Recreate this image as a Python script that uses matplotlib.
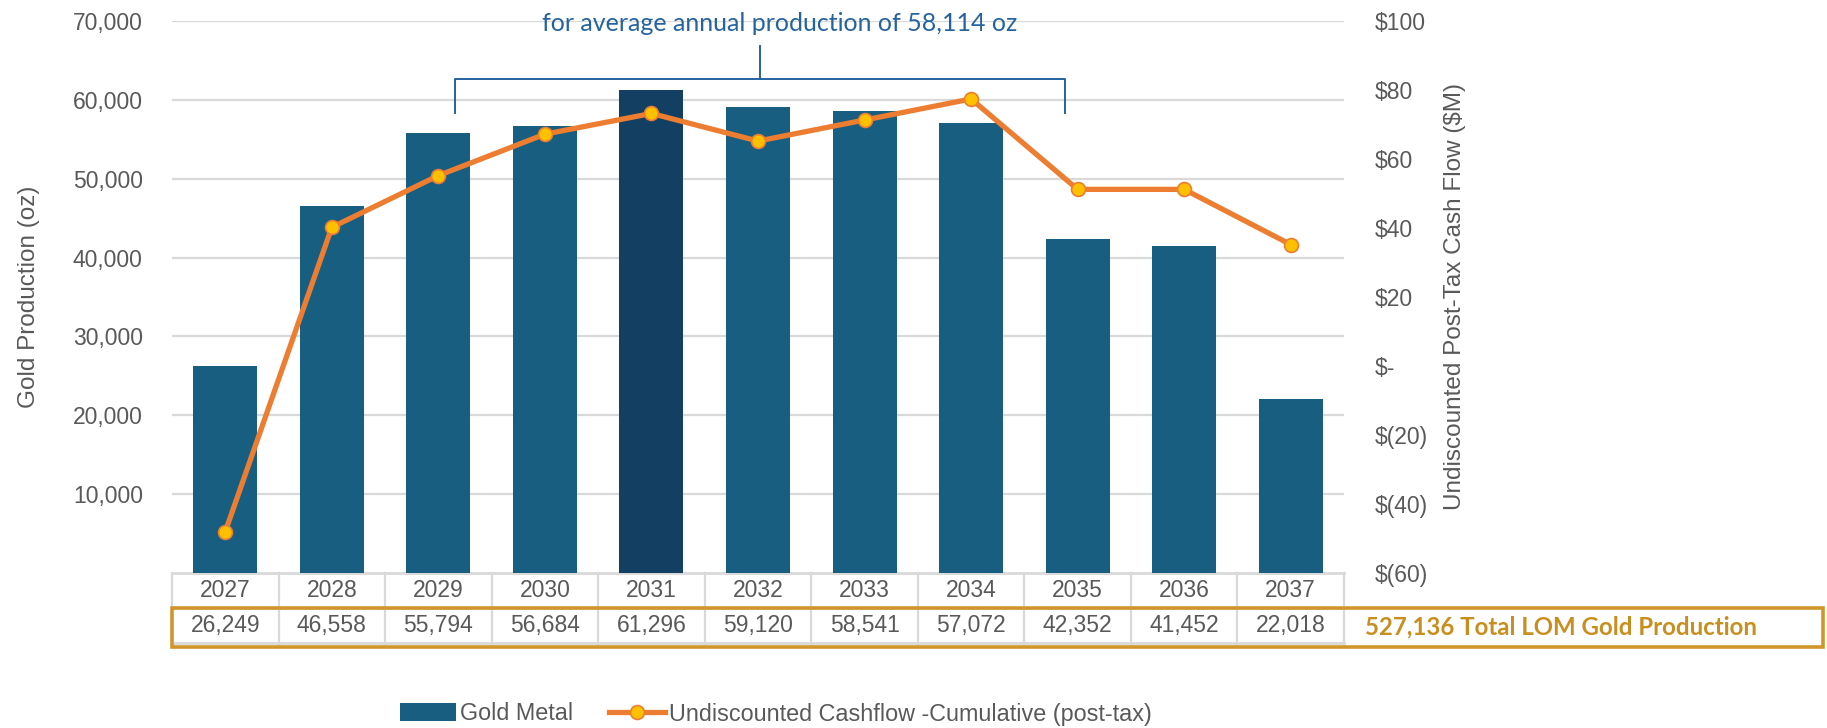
import matplotlib
matplotlib.use("Agg")
import matplotlib.pyplot as plt
from matplotlib.patches import Rectangle, Patch
from matplotlib.lines import Line2D

years = ["2027", "2028", "2029", "2030", "2031", "2032", "2033", "2034", "2035", "2036", "2037"]
gold_oz = [26249, 46558, 55794, 56684, 61296, 59120, 58541, 57072, 42352, 41452, 22018]
cashflow_cum = [-48.0, 40.2, 55.2, 67.2, 73.2, 65.2, 71.3, 77.4, 51.2, 51.2, 35.2]
highlight_year = "2031"

gold_ticks = [10000, 20000, 30000, 40000, 50000, 60000, 70000]
cf_ticks = [-60, -40, -20, 0, 20, 40, 60, 80, 100]
cf_labels = ["$(60)", "$(40)", "$(20)", "$-", "$20", "$40", "$60", "$80", "$100"]

note_text = "for average annual production of 58,114 oz"
bracket_span = [2.16, 7.88]

BAR = "#175E81"
BAR_DARK = "#133F63"
ORANGE = "#ED7D31"
YELLOW = "#FFC000"
GRAY_TXT = "#595959"
GRID = "#D9D9D9"
NOTE_BLUE = "#2563A0"
GOLD_TXT = "#C98F1E"
BOX = "#D0962A"

plt.rcParams["font.family"] = ["Liberation Sans", "DejaVu Sans"]

W, H = 1827, 728
fig = plt.figure(figsize=(W / 100, H / 100), dpi=100)
ax = fig.add_axes([172 / W, (H - 573) / H, 1172 / W, 552 / H])

x = list(range(len(years)))
colors = [BAR_DARK if y == highlight_year else BAR for y in years]
ax.bar(x, gold_oz, width=0.6, color=colors, zorder=2)

ax.set_xlim(-0.5, len(years) - 0.5)
ax.set_ylim(0, 70000)
ax.set_yticks(gold_ticks)
ax.set_yticklabels([f"{v:,}" for v in gold_ticks])
ax.set_xticks([])
ax.grid(axis="y", color=GRID, lw=1.6, zorder=0)
ax.set_axisbelow(True)
ax.tick_params(axis="y", length=0, pad=21, labelsize=16.5, labelcolor=GRAY_TXT)
for s in ax.spines.values():
    s.set_visible(False)
ax.set_ylabel("Gold Production (oz)", fontsize=17.5, color=GRAY_TXT)
ax.yaxis.set_label_coords(-0.1125, 0.5)

ax2 = ax.twinx()
ax2.plot(x, cashflow_cum, color=ORANGE, lw=3.8, marker="o", ms=10,
         markerfacecolor=YELLOW, markeredgecolor=ORANGE, markeredgewidth=1.2, zorder=3)
ax2.set_ylim(-60, 100)
ax2.set_yticks(cf_ticks)
ax2.set_yticklabels(cf_labels)
ax2.tick_params(axis="y", length=0, pad=22, labelsize=16.5, labelcolor=GRAY_TXT)
for s in ax2.spines.values():
    s.set_visible(False)
ax2.set_ylabel("Undiscounted Post-Tax Cash Flow ($M)", fontsize=17.5, color=GRAY_TXT)
ax2.yaxis.set_label_coords(1.0855, 0.5)

# bracket + note over the steady-state years
bx0, bx1 = bracket_span
bmid = (bx0 + bx1) / 2
ax.plot([bx0, bx0, bx1, bx1], [58350, 62650, 62650, 58350], color=NOTE_BLUE, lw=1.4, clip_on=False, zorder=4)
ax.plot([bmid, bmid], [62650, 66800], color=NOTE_BLUE, lw=1.4, clip_on=False, zorder=4)
ax.text(bmid + 0.18, 69700, note_text, ha="center", va="center", fontsize=18,
        color=NOTE_BLUE, family=["Lato", "DejaVu Sans"], clip_on=False)

# data table under the axis
tr = ax.get_xaxis_transform()
row_h = 35 / 552
ax.plot([-0.5, len(years) - 0.5], [0, 0], transform=tr, color=GRID, lw=2, clip_on=False, zorder=1)
ax.plot([-0.5, len(years) - 0.5], [-row_h, -row_h], transform=tr, color=GRID, lw=2, clip_on=False)
ax.plot([-0.5, len(years) - 0.5], [-2 * row_h, -2 * row_h], transform=tr, color=GRID, lw=2, clip_on=False)
for i in range(len(years) + 1):
    ax.plot([i - 0.5, i - 0.5], [0, -2 * row_h - 0.005], transform=tr, color=GRID, lw=1.6, clip_on=False)
for i, (yr, v) in enumerate(zip(years, gold_oz)):
    ax.text(i, -row_h / 2, yr, transform=tr, ha="center", va="center", fontsize=16.5, color=GRAY_TXT)
    ax.text(i, -1.5 * row_h, f"{v:,}", transform=tr, ha="center", va="center", fontsize=16.5, color=GRAY_TXT)

fig.patches.append(Rectangle((172 / W, (H - 647) / H), (1823 - 172) / W, 39 / H,
                             transform=fig.transFigure, fill=False, edgecolor=BOX, lw=2.6))
fig.text(1365 / W, (H - 627) / H, f"{sum(gold_oz):,} Total LOM Gold Production", ha="left", va="center",
         fontsize=17.3, fontweight="bold", color=GOLD_TXT, family=["Lato", "DejaVu Sans"])

handles = [
    Patch(facecolor=BAR, edgecolor="none"),
    Line2D([0], [0], color=ORANGE, lw=3.8, marker="o", ms=10, markerfacecolor=YELLOW,
           markeredgecolor=ORANGE, markeredgewidth=1.2),
]
fig.legend(handles, ["Gold Metal", "Undiscounted Cashflow -Cumulative (post-tax)"],
           loc="center", bbox_to_anchor=(776 / W, (H - 714) / H), ncol=2, frameon=False,
           fontsize=16.8, labelcolor=GRAY_TXT, handlelength=2.4, handleheight=0.8,
           handletextpad=0.2, columnspacing=1.5, numpoints=1)

fig.savefig("out.png", dpi=100)
